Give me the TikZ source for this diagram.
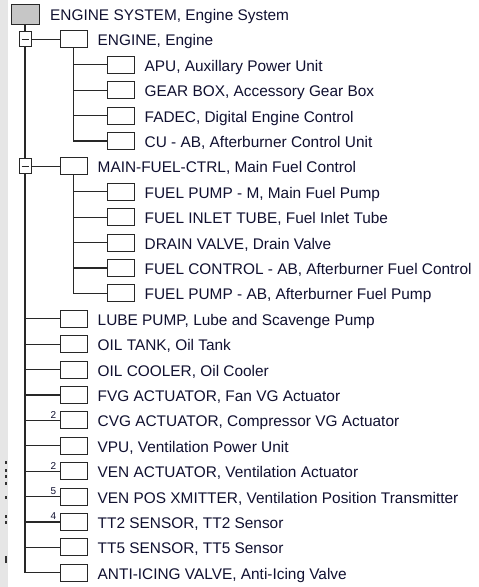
\documentclass[tikz,border=0pt]{standalone}
\usepackage{fontspec}
\setmainfont{Liberation Sans}
\usetikzlibrary{positioning}
\definecolor{tree-text}{RGB}{16, 16, 48}
\definecolor{tree-line}{RGB}{40, 40, 40}
\definecolor{tree-strip}{RGB}{230, 230, 230}

\begin{document}
\begin{tikzpicture}[
  x=1pt, y=1pt,
  item/.style={rectangle,draw=tree-line,line width=1pt,fill=white,
               minimum width=27pt,minimum height=17pt,inner sep=0pt},
  rootbox/.style={item,fill=gray!45,minimum width=28pt,minimum height=20pt},
  expander/.style={rectangle,draw=tree-line,line width=1pt,fill=white,
                   minimum width=12pt,minimum height=15pt,inner sep=0pt,
                   path picture={\draw[tree-line,line width=1pt]
                     ([xshift=-3.5pt]path picture bounding box.center) --
                     ([xshift=3.5pt]path picture bounding box.center);}},
  lbl/.style={anchor=west,inner sep=0pt,text=tree-text,text height=13pt,text depth=0pt,
              font=\fontsize{15.4}{17}\selectfont},
  num/.style={inner sep=0pt,text=tree-text,font=\fontsize{10}{10}\selectfont},
  tree/.style={draw=tree-line,line width=1.3pt}
]
  \useasboundingbox (0,0) rectangle (479,-587);
  \fill[tree-strip] (0,0) rectangle (8,-587);
  % stray marks at the left edge
  \foreach \ya/\yb in {461/464, 469/472, 475/478, 482/485, 496/499, 515/518, 521/524, 556/563}
    \fill[black!80] (5,-\ya) rectangle (7,-\yb);

  % root
  \node[rootbox] (root) at (25,-14) {};
  \node[lbl] (rootT) at (50,-14) {ENGINE SYSTEM, Engine System};

  % expanders
  \node[expander] (expA) at (25,-39.4)  {};
  \node[expander] (expB) at (25,-166.4) {};

  % first level
  \node[item] (engine)  at (73.5,-39.4)  {};
  \node[item] (mfc)     at (73.5,-166.4) {};
  \node[item] (lube)    at (73.5,-318.8) {};
  \node[item] (oiltank) at (73.5,-344.2) {};
  \node[item] (oilcool) at (73.5,-369.6) {};
  \node[item] (fvg)     at (73.5,-395)   {};
  \node[item] (cvg)     at (73.5,-420.4) {};
  \node[item] (vpu)     at (73.5,-445.8) {};
  \node[item] (venact)  at (73.5,-471.2) {};
  \node[item] (venpos)  at (73.5,-496.6) {};
  \node[item] (tt2)     at (73.5,-522)   {};
  \node[item] (tt5)     at (73.5,-547.4) {};
  \node[item] (antiice) at (73.5,-572.8) {};

  % second level
  \node[item] (apu)     at (120.5,-64.8)  {};
  \node[item] (gearbox) at (120.5,-90.2)  {};
  \node[item] (fadec)   at (120.5,-115.6) {};
  \node[item] (cuab)    at (120.5,-141)   {};
  \node[item] (fpm)     at (120.5,-191.8) {};
  \node[item] (fit)     at (120.5,-217.2) {};
  \node[item] (dv)      at (120.5,-242.6) {};
  \node[item] (fcab)    at (120.5,-268)   {};
  \node[item] (fpab)    at (120.5,-293.4) {};

  % labels
  \node[lbl, right=10pt of engine]  (engineT)  {ENGINE, Engine};
  \node[lbl, right=10pt of mfc]     (mfcT)     {MAIN-FUEL-CTRL, Main Fuel Control};
  \node[lbl, right=10pt of lube]    (lubeT)    {LUBE PUMP, Lube and Scavenge Pump};
  \node[lbl, right=10pt of oiltank] (oiltankT) {OIL TANK, Oil Tank};
  \node[lbl, right=10pt of oilcool] (oilcoolT) {OIL COOLER, Oil Cooler};
  \node[lbl, right=10pt of fvg]     (fvgT)     {FVG ACTUATOR, Fan VG Actuator};
  \node[lbl, right=10pt of cvg]     (cvgT)     {CVG ACTUATOR, Compressor VG Actuator};
  \node[lbl, right=10pt of vpu]     (vpuT)     {VPU, Ventilation Power Unit};
  \node[lbl, right=10pt of venact]  (venactT)  {VEN ACTUATOR, Ventilation Actuator};
  \node[lbl, right=10pt of venpos]  (venposT)  {VEN POS XMITTER, Ventilation Position Transmitter};
  \node[lbl, right=10pt of tt2]     (tt2T)     {TT2 SENSOR, TT2 Sensor};
  \node[lbl, right=10pt of tt5]     (tt5T)     {TT5 SENSOR, TT5 Sensor};
  \node[lbl, right=10pt of antiice] (antiiceT) {ANTI-ICING VALVE, Anti-Icing Valve};
  \node[lbl, right=10pt of apu]     (apuT)     {APU, Auxillary Power Unit};
  \node[lbl, right=10pt of gearbox] (gearboxT) {GEAR BOX, Accessory Gear Box};
  \node[lbl, right=10pt of fadec]   (fadecT)   {FADEC, Digital Engine Control};
  \node[lbl, right=10pt of cuab]    (cuabT)    {CU - AB, Afterburner Control Unit};
  \node[lbl, right=10pt of fpm]     (fpmT)     {FUEL PUMP - M, Main Fuel Pump};
  \node[lbl, right=10pt of fit]     (fitT)     {FUEL INLET TUBE, Fuel Inlet Tube};
  \node[lbl, right=10pt of dv]      (dvT)      {DRAIN VALVE, Drain Valve};
  \node[lbl, right=10pt of fcab]    (fcabT)    {FUEL CONTROL - AB, Afterburner Fuel Control};
  \node[lbl, right=10pt of fpab]    (fpabT)    {FUEL PUMP - AB, Afterburner Fuel Pump};

  % counts
  \node[num, anchor=south east] (cvgN)    at ([xshift=-3pt,yshift=2pt]cvg.west)    {2};
  \node[num, anchor=south east] (venactN) at ([xshift=-3pt,yshift=2pt]venact.west) {2};
  \node[num, anchor=south east] (venposN) at ([xshift=-3pt,yshift=2pt]venpos.west) {5};
  \node[num, anchor=south east] (tt2N)    at ([xshift=-3pt,yshift=2pt]tt2.west)    {4};

  % main trunk
  \draw[tree] (root.south) -- (expA.north);
  \draw[tree] (expA.south) -- (expB.north);
  \draw[tree] (expB.south) |- (antiice.west);
  \draw[tree] (expA) -- (engine);
  \draw[tree] (expB) -- (mfc);
  \foreach \n in {lube,oiltank,oilcool,fvg,cvg,vpu,venact,venpos,tt2,tt5}
    \draw[tree] (expB.south |- \n.west) -- (\n.west);

  % sub trees
  \foreach \n in {apu,gearbox,fadec,cuab}
    \draw[tree] (engine.south) |- (\n.west);
  \foreach \n in {fpm,fit,dv,fcab,fpab}
    \draw[tree] (mfc.south) |- (\n.west);
\end{tikzpicture}
\end{document}
